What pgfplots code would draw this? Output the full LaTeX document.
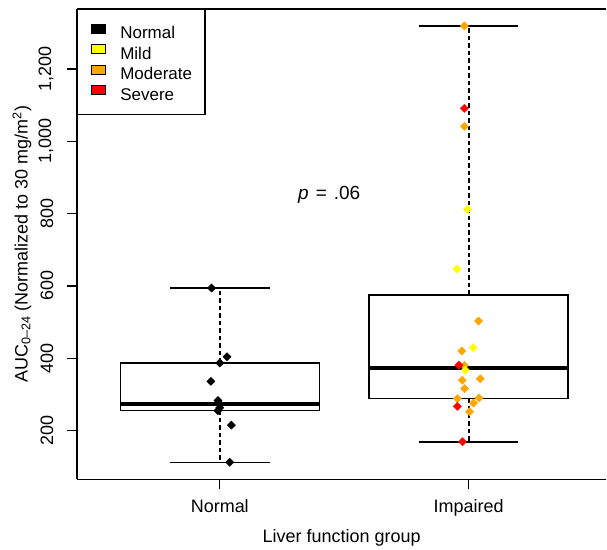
\documentclass[border=0pt]{standalone}
\usepackage{pgfplots}
\pgfplotsset{compat=1.18}
\usepackage{fontspec}
\setmainfont{Liberation Sans}
\definecolor{rorange}{RGB}{255,165,0}
\definecolor{ryellow}{RGB}{255,255,0}
\definecolor{rred}{RGB}{255,0,0}
\begin{document}
\begin{tikzpicture}
\begin{axis}[
  scale only axis, width=530pt, height=471pt,
  xmin=0.4257, xmax=2.554, ymin=64.6, ymax=1365.7,
  axis x line=box, axis y line=left,
  axis line style={-, line width=1.3pt},
  every outer x axis line/.append style={-},
  every outer y axis line/.append style={-},
  xtick={1,2}, xticklabels={Normal,Impaired},
  ytick={200,400,600,800,1000,1200},
  yticklabels={200,400,600,800,{1,000},{1,200}},
  tick align=outside, major tick length=10pt,
  xtick pos=bottom, ytick pos=left,
  tick style={line width=1.3pt, black},
  tick label style={font=\fontsize{18}{21}\selectfont},
  yticklabel style={rotate=90, anchor=south, yshift=10pt},
  xticklabel style={yshift=-6pt},
  xlabel={Liver function group},
  ylabel={AUC\textsubscript{0–24} (Normalized to 30 mg/m\textsuperscript{2})},
  label style={font=\fontsize{18}{21}\selectfont},
  xlabel style={at={(axis description cs:0.5,-0.124)}, anchor=center},
  ylabel style={at={(axis description cs:-0.1038,0.5)}, anchor=center},
  legend style={at={(0,1)}, anchor=north west, draw=black, line width=1.3pt,
    font=\fontsize{17}{20}\selectfont, inner xsep=13pt, inner ysep=14pt,
    column sep=15pt, row sep=5.4pt,
    nodes={inner sep=0pt, text height=12.5pt, text depth=0pt}},
  legend cell align=left,
  clip=false,
]
% legend
\addlegendimage{legend image code/.code={\draw[black, line width=0.8pt, fill=black] (0pt,-0.5pt) rectangle (14pt,8.5pt);}}
\addlegendentry{Normal}
\addlegendimage{legend image code/.code={\draw[black, line width=0.8pt, fill=ryellow] (0pt,-0.5pt) rectangle (14pt,8.5pt);}}
\addlegendentry{Mild}
\addlegendimage{legend image code/.code={\draw[black, line width=0.8pt, fill=rorange] (0pt,-0.5pt) rectangle (14pt,8.5pt);}}
\addlegendentry{Moderate}
\addlegendimage{legend image code/.code={\draw[black, line width=0.8pt, fill=rred] (0pt,-0.5pt) rectangle (14pt,8.5pt);}}
\addlegendentry{Severe}

% Normal box
\addplot[black, line width=1.5pt, forget plot] coordinates {(0.6,256) (1.4,256) (1.4,387) (0.6,387) (0.6,256) (1.4,256)};
\addplot[black, line width=4pt, forget plot] coordinates {(0.6,272) (1.4,272)};
\addplot[black, line width=1.7pt, dash pattern=on 4.5pt off 3pt, forget plot] coordinates {(1,387) (1,594)};
\addplot[black, line width=1.7pt, dash pattern=on 4.5pt off 3pt, forget plot] coordinates {(1,256) (1,112)};
\addplot[black, line width=1.7pt, forget plot] coordinates {(0.8,594) (1.2,594)};
\addplot[black, line width=1.7pt, forget plot] coordinates {(0.8,112) (1.2,112)};
% Impaired box
\addplot[black, line width=1.5pt, forget plot] coordinates {(1.6,288) (2.4,288) (2.4,575) (1.6,575) (1.6,288) (2.4,288)};
\addplot[black, line width=4pt, forget plot] coordinates {(1.6,373) (2.4,373)};
\addplot[black, line width=1.7pt, dash pattern=on 4.5pt off 3pt, forget plot] coordinates {(2.003,575) (2.003,1319)};
\addplot[black, line width=1.7pt, dash pattern=on 4.5pt off 3pt, forget plot] coordinates {(2.003,288) (2.003,169)};
\addplot[black, line width=1.7pt, forget plot] coordinates {(1.8,1319) (2.2,1319)};
\addplot[black, line width=1.7pt, forget plot] coordinates {(1.8,169) (2.2,169)};

% points
\addplot[only marks, mark=square*, mark size=2.9pt, mark options={rotate=45, draw=black, fill=black}, forget plot] coordinates {
(0.967,594) (1.029,404) (1.0,387) (0.964,336) (0.993,283) (0.996,275) (1.0,263) (0.992,255) (1.047,215) (1.040,112)};
\addplot[only marks, mark=square*, mark size=2.9pt, mark options={rotate=45, draw=rorange, fill=rorange}, forget plot] coordinates {
(1.983,1319) (1.983,1041) (2.040,503) (1.973,420) (1.983,380) (2.047,343) (1.975,339) (1.984,316) (1.955,288) (2.042,290) (2.020,276) (2.004,252)};
\addplot[only marks, mark=square*, mark size=2.9pt, mark options={rotate=45, draw=ryellow, fill=ryellow}, forget plot] coordinates {
(1.996,812) (1.953,647) (2.019,429) (1.987,367)};
\addplot[only marks, mark=square*, mark size=2.9pt, mark options={rotate=45, draw=rred, fill=rred}, forget plot] coordinates {
(1.983,1091) (1.961,381) (1.955,267) (1.976,169)};

\node[font=\fontsize{19}{22}\selectfont] at (axis cs:1.44,852) {\textit{p}\hspace{7pt}=\hspace{7pt}.06};
\end{axis}
\path ([xshift=-77pt,yshift=-67pt]current axis.south west);
\path ([yshift=9pt]current axis.north east);
\end{tikzpicture}
\end{document}
